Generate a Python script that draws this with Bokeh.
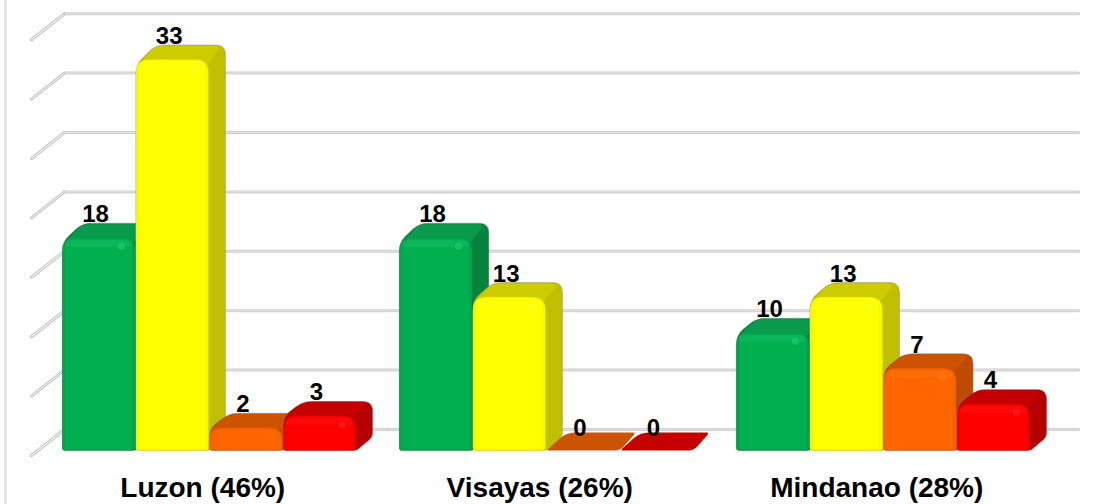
from bokeh.plotting import figure
from bokeh.models import FixedTicker, ColumnDataSource
from bokeh.core.properties import value as fv
from bokeh.embed import file_html
from bokeh.resources import INLINE

categories = ["Luzon (46%)", "Visayas (26%)", "Mindanao (28%)"]
green = [18, 18, 10]
yellow = [33, 13, 13]
orange = [2, 0, 7]
red = [3, 0, 4]
grid_values = [0, 5, 10, 15, 20, 25, 30, 35]

series = [
    (green,  "#00b050", "#00a64b", "#0a9a4c", "#07823c", "#2fd07f"),
    (yellow, "#ffff00", "#f7f700", "#cccc00", "#c0c000", "#ffff30"),
    (orange, "#ff6600", "#f56200", "#cc5400", "#bd4c00", "#ff8020"),
    (red,    "#ff0000", "#f40000", "#c40000", "#b40000", "#ff2a2a"),
]

PX_X, PX_Y = 337.0, 11.88      # pixels per category, pixels per value unit
BASE_Y = 450.0
LEFT_X = 209.0
W, H, FRAME_H = 1099, 504, 465
DXF, DXB, DY, DY0 = 20.0, 16.0, 13.5, 18.0
BAR = 73.6


def rounded(points, radii, n=6):
    xs, ys = [], []
    m = len(points)
    for i in range(m):
        px, py = points[i - 1]
        cx, cy = points[i]
        nx, ny = points[(i + 1) % m]
        r = radii[i]
        d1 = max(((cx - px) ** 2 + (cy - py) ** 2) ** 0.5, 1e-6)
        d2 = max(((nx - cx) ** 2 + (ny - cy) ** 2) ** 0.5, 1e-6)
        r1, r2 = min(r, d1 / 2), min(r, d2 / 2)
        a = (cx + (px - cx) * r1 / d1, cy + (py - cy) * r1 / d1)
        b = (cx + (nx - cx) * r2 / d2, cy + (ny - cy) * r2 / d2)
        for k in range(n + 1):
            t = k / n
            xs.append((1 - t) ** 2 * a[0] + 2 * t * (1 - t) * cx + t * t * b[0])
            ys.append((1 - t) ** 2 * a[1] + 2 * t * (1 - t) * cy + t * t * b[1])
    return [x / PX_X for x in xs], [y / PX_Y for y in ys]


x_start = 0.5 - LEFT_X / PX_X
y_end = BASE_Y / PX_Y
y_start = y_end - FRAME_H / PX_Y

p = figure(width=W, height=H, frame_width=W, frame_height=FRAME_H,
           x_range=(x_start, x_start + W / PX_X), y_range=(y_start, y_end),
           output_backend="svg", toolbar_location=None, min_border=0,
           background_fill_color=None, border_fill_color=None,
           outline_line_color=None, y_axis_location=None,
           styles={"background": "linear-gradient(to right,#fff 4px,#e6e6e6 4px,#e6e6e6 7px,#fff 7px)"})
p.grid.visible = False
ticks = [i + 0.48 for i in range(len(categories))]
ax = p.xaxis[0]
ax.ticker = FixedTicker(ticks=ticks)
ax.major_label_overrides = dict(zip(ticks, categories))
ax.major_label_text_font = "Liberation Sans"
ax.major_label_text_font_style = "bold"
ax.major_label_text_font_size = "28px"
ax.major_label_text_color = "#000000"
ax.major_label_standoff = 0
ax.axis_line_color = None
ax.major_tick_line_color = None
ax.minor_tick_line_color = None

# back wall / floor grid
GRID_FRONT_X, GRID_BACK_X, GRID_RIGHT_X = 31.0, 64.0, 1078.0
GRID_BACK_LIFT, GRID_FRONT_DROP = 21.0, 5.0
gx, gy, dx_, dy_ = [], [], [], []
for g in grid_values:
    back = g + GRID_BACK_LIFT / PX_Y
    front = g - GRID_FRONT_DROP / PX_Y
    xf = x_start + GRID_FRONT_X / PX_X
    xb = x_start + GRID_BACK_X / PX_X
    xr = x_start + GRID_RIGHT_X / PX_X
    gx.append([xb, xr]); gy.append([back, back])
    dx_.append([xf, xb]); dy_.append([front, back])
p.multi_line(dx_, dy_, line_color="#bdbdbd", line_width=3, line_cap="round")
p.multi_line(dx_, dy_, line_color="#f4f4f4", line_width=1.2, line_cap="round")
p.multi_line(gx, gy, line_color="#cdcdcd", line_width=3, line_cap="round")
p.multi_line(gx, gy, line_color="#e6e6e6", line_width=1)

# bars, left to right so later ones overlap the sides of earlier ones
lab_x, lab_y, lab_t = [], [], []
for c in range(len(categories)):
    c0 = (c + 0.5) * PX_X - 2 * BAR
    for s, (vals, col, edge, top, side, glow) in enumerate(series):
        v = vals[c]
        x0 = c0 + s * BAR
        x1 = x0 + BAR
        t = v * PX_Y                     # height of the value
        f = t - min(6.0, 1.0 + t / 50)   # where the outline leaves the front edge
        if v == 0:
            xs, ys = rounded([(x0, 0), (x0 + DXF, DY0), (x1 + DXB, DY0), (x1, 0)], [3, 9, 4, 6])
            p.patch(xs, ys, fill_color=top, line_color=None)
        else:
            sil = [(x0, 0), (x0, f), (x0 + DXF, t + DY), (x1 + DXB, t + DY), (x1 + DXB, DY), (x1, 0)]
            xs, ys = rounded(sil, [3, 9, 9, 10, 5, 3])
            p.patch(xs, ys, fill_color=side, line_color="#8f8f8f", line_alpha=0.45, line_width=1)
            xs, ys = rounded([(x0 + 2, f - 1), (x0 + DXF, t + DY - 1), (x1 + DXB - 4, t + DY - 1), (x1 - 3, f - 1)], [3, 7, 8, 3])
            p.patch(xs, ys, fill_color=top, line_color=None)
            xs, ys = rounded([(x0, 0), (x0, t - 1), (x1 - 1, t - 1), (x1 - 1, 0)], [3, 13, 13, 3])
            p.patch(xs, ys, fill_color=edge, line_color=None)
            xs, ys = rounded([(x0 + 3, 2), (x0 + 3, t - 3), (x1 - 4, t - 3), (x1 - 4, 2)], [3, 10, 10, 3])
            p.patch(xs, ys, fill_color=col, line_color=None)
            if t > 30:
                xs, ys = rounded([(x0 + 3, t - 10), (x0 + 3, t - 3), (x1 - 4, t - 3), (x1 - 4, t - 10)], [1, 8, 8, 1])
                p.patch(xs, ys, fill_color=glow, fill_alpha=0.2, line_color=None)
                xs, ys = rounded([(x1 - 18, t - 13), (x1 - 18, t - 6), (x1 - 11, t - 6), (x1 - 11, t - 13)], [3, 3, 3, 3])
                p.patch(xs, ys, fill_color=glow, fill_alpha=0.45, line_color=None)
        lab_x.append((x0 + BAR / 2 - 3.5) / PX_X)
        lab_y.append(v)
        lab_t.append(str(v))

src = ColumnDataSource(dict(x=lab_x, y=lab_y, t=lab_t))
p.text("x", "y", text="t", source=src, text_font=fv("Liberation Sans"), text_font_style="bold",
       text_font_size="24px", text_color="#000000", text_align="center",
       text_baseline="middle", y_offset=-23)

open("out.html", "w").write(file_html(p, INLINE))
